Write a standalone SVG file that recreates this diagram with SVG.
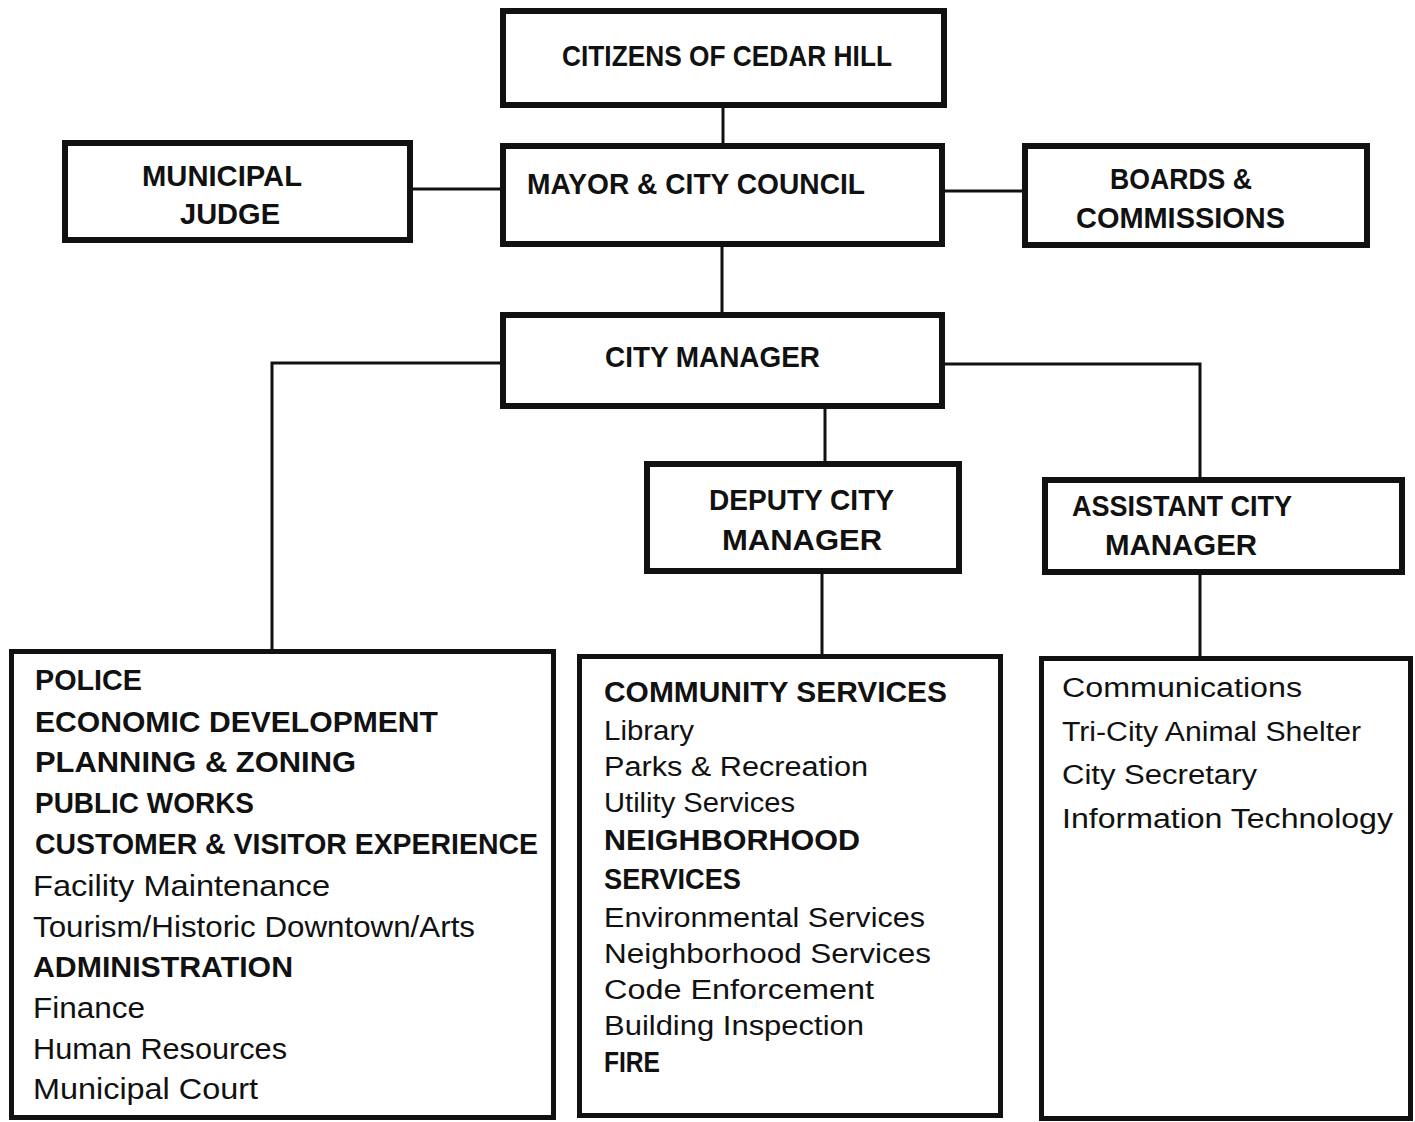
<svg xmlns="http://www.w3.org/2000/svg" width="1415" height="1122" viewBox="0 0 1415 1122">
<style>
.box{fill:#fff;stroke:#111;stroke-width:6}
.big{fill:#fff;stroke:#111;stroke-width:5}
.conn{fill:none;stroke:#111;stroke-width:3}
text{font-family:"Liberation Sans",Arial,sans-serif;fill:#111}
.h{font-weight:bold;font-size:30px}
.b{font-weight:bold;font-size:30px}
.r{font-size:29px}
.bm{font-weight:bold;font-size:29px}
.rm{font-size:27px}
</style>
<rect width="1415" height="1122" fill="#fff"/>
<g id="connectors">
<line class="conn" x1="723" y1="108" x2="723" y2="143"/>
<line class="conn" x1="413" y1="189" x2="500" y2="189"/>
<line class="conn" x1="945" y1="191" x2="1022" y2="191"/>
<line class="conn" x1="722" y1="247" x2="722" y2="312"/>
<polyline class="conn" points="500,363 272,363 272,649"/>
<polyline class="conn" points="945,364 1200,364 1200,477"/>
<line class="conn" x1="825" y1="409" x2="825" y2="461"/>
<line class="conn" x1="822" y1="574" x2="822" y2="654"/>
<line class="conn" x1="1200" y1="575" x2="1200" y2="656"/>
</g>
<g id="citizens">
<rect class="box" x="503" y="11" width="441" height="94"/>
<text class="h" x="562" y="66" textLength="330" lengthAdjust="spacingAndGlyphs">CITIZENS OF CEDAR HILL</text>
</g>
<g id="mayor">
<rect class="box" x="503" y="146" width="439" height="98"/>
<text class="h" x="527" y="194" textLength="338" lengthAdjust="spacingAndGlyphs">MAYOR &amp; CITY COUNCIL</text>
</g>
<g id="judge">
<rect class="box" x="65" y="143" width="345" height="97"/>
<text class="h" x="142" y="186" textLength="160" lengthAdjust="spacingAndGlyphs">MUNICIPAL</text>
<text class="h" x="180" y="224" textLength="100" lengthAdjust="spacingAndGlyphs">JUDGE</text>
</g>
<g id="boards">
<rect class="box" x="1025" y="146" width="342" height="99"/>
<text class="h" x="1110" y="189" textLength="142" lengthAdjust="spacingAndGlyphs">BOARDS &amp;</text>
<text class="h" x="1076" y="228" textLength="209" lengthAdjust="spacingAndGlyphs">COMMISSIONS</text>
</g>
<g id="city-manager">
<rect class="box" x="503" y="315" width="439" height="91"/>
<text class="h" x="605" y="367" textLength="215" lengthAdjust="spacingAndGlyphs">CITY MANAGER</text>
</g>
<g id="deputy">
<rect class="box" x="647" y="464" width="312" height="107"/>
<text class="h" x="709" y="510" textLength="185" lengthAdjust="spacingAndGlyphs">DEPUTY CITY</text>
<text class="h" x="722" y="550" textLength="160" lengthAdjust="spacingAndGlyphs">MANAGER</text>
</g>
<g id="assistant">
<rect class="box" x="1045" y="480" width="357" height="92"/>
<text class="h" x="1072" y="516" textLength="220" lengthAdjust="spacingAndGlyphs">ASSISTANT CITY</text>
<text class="h" x="1105" y="555" textLength="152" lengthAdjust="spacingAndGlyphs">MANAGER</text>
</g>
<g id="cm-departments">
<rect class="big" x="11.5" y="651.5" width="542" height="466"/>
<text class="b" x="35" y="690" textLength="107" lengthAdjust="spacingAndGlyphs">POLICE</text>
<text class="b" x="35" y="732" textLength="403" lengthAdjust="spacingAndGlyphs">ECONOMIC DEVELOPMENT</text>
<text class="b" x="35" y="772" textLength="321" lengthAdjust="spacingAndGlyphs">PLANNING &amp; ZONING</text>
<text class="b" x="35" y="813" textLength="219" lengthAdjust="spacingAndGlyphs">PUBLIC WORKS</text>
<text class="b" x="35" y="854" textLength="503" lengthAdjust="spacingAndGlyphs">CUSTOMER &amp; VISITOR EXPERIENCE</text>
<text class="r" x="33" y="896" textLength="297" lengthAdjust="spacingAndGlyphs">Facility Maintenance</text>
<text class="r" x="33" y="937" textLength="442" lengthAdjust="spacingAndGlyphs">Tourism/Historic Downtown/Arts</text>
<text class="b" x="33" y="977" textLength="260" lengthAdjust="spacingAndGlyphs">ADMINISTRATION</text>
<text class="r" x="33" y="1018" textLength="112" lengthAdjust="spacingAndGlyphs">Finance</text>
<text class="r" x="33" y="1059" textLength="254" lengthAdjust="spacingAndGlyphs">Human Resources</text>
<text class="r" x="33" y="1099" textLength="225" lengthAdjust="spacingAndGlyphs">Municipal Court</text>
</g>
<g id="deputy-departments">
<rect class="big" x="579.5" y="656.5" width="421" height="459"/>
<text class="bm" x="604" y="702" textLength="343" lengthAdjust="spacingAndGlyphs">COMMUNITY SERVICES</text>
<text class="rm" x="604" y="740" textLength="90" lengthAdjust="spacingAndGlyphs">Library</text>
<text class="rm" x="604" y="776" textLength="264" lengthAdjust="spacingAndGlyphs">Parks &amp; Recreation</text>
<text class="rm" x="604" y="812" textLength="191" lengthAdjust="spacingAndGlyphs">Utility Services</text>
<text class="bm" x="604" y="850" textLength="256" lengthAdjust="spacingAndGlyphs">NEIGHBORHOOD</text>
<text class="bm" x="604" y="889" textLength="137" lengthAdjust="spacingAndGlyphs">SERVICES</text>
<text class="rm" x="604" y="927" textLength="321" lengthAdjust="spacingAndGlyphs">Environmental Services</text>
<text class="rm" x="604" y="963" textLength="327" lengthAdjust="spacingAndGlyphs">Neighborhood Services</text>
<text class="rm" x="604" y="999" textLength="270" lengthAdjust="spacingAndGlyphs">Code Enforcement</text>
<text class="rm" x="604" y="1035" textLength="260" lengthAdjust="spacingAndGlyphs">Building Inspection</text>
<text class="bm" x="604" y="1072" textLength="56" lengthAdjust="spacingAndGlyphs">FIRE</text>
</g>
<g id="assistant-departments">
<rect class="big" x="1041.5" y="658.5" width="369" height="460"/>
<text class="rm" x="1062" y="697" textLength="240" lengthAdjust="spacingAndGlyphs">Communications</text>
<text class="rm" x="1062" y="741" textLength="299" lengthAdjust="spacingAndGlyphs">Tri-City Animal Shelter</text>
<text class="rm" x="1062" y="784" textLength="195" lengthAdjust="spacingAndGlyphs">City Secretary</text>
<text class="rm" x="1062" y="828" textLength="331" lengthAdjust="spacingAndGlyphs">Information Technology</text>
</g>
</svg>
